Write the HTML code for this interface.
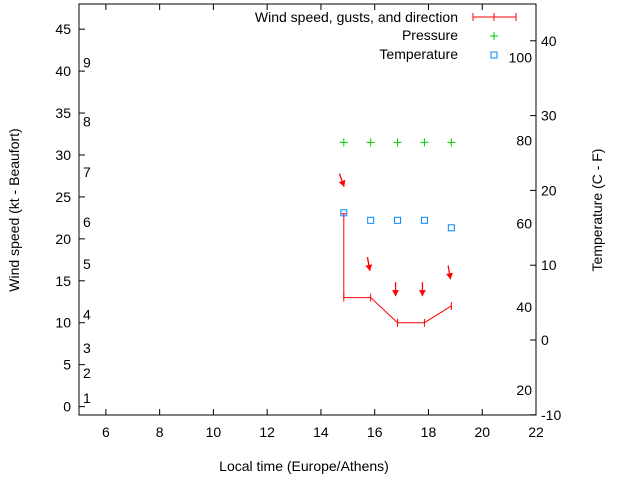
<!DOCTYPE html>
<html><head><meta charset="utf-8"><style>body{margin:0;background:#fff}svg{display:block;font-family:"Liberation Sans",sans-serif;font-size:14px}</style></head>
<body>
<svg id="c" width="640" height="480"></svg>
<script>
const hours=[14.85,15.85,16.85,17.85,18.85];
const windKt=[13,13,10,10,12];
const gustKt=[23,null,null,null,null];
const arrowKt=[27,17,14,14,16];
const windDir=[340,350,0,0,350];
const pressureKt=[31.5,31.5,31.5,31.5,31.5];
const tempC=[17,16,16,16,15];
const xTicks=[6,8,10,12,14,16,18,20,22];
const yTicks=[0,5,10,15,20,25,30,35,40,45];
const cTicks=[-10,0,10,20,30,40];
const fLabels=[20,40,60,80,100];
const bftKt=[1,4,7,11,17,22,28,34,41];
const bftLabels=[1,2,3,4,5,6,7,8,9];
const L=79,R=536,T=4,B=415;
const X=v=>L+(v-5)*(R-L)/17;
const Y=v=>B-(v+1)*(B-T)/49;
const YC=c=>340-c*7.48;
const s=document.getElementById('c');const NS='http://www.w3.org/2000/svg';
function mk(t,a,txt){const e=document.createElementNS(NS,t);for(const k in a)e.setAttribute(k,a[k]);if(txt!==undefined)e.textContent=txt;s.appendChild(e);return e;}
let e;
e=mk('rect',{x:L,y:T,width:R-L,height:B-T,fill:'none',stroke:'#000','stroke-width':1});


xTicks.forEach(v=>{const x=X(v);
e=mk('path',{d:`M${x} ${B}v-6M${x} ${T}v6`,stroke:'#000'});


e=mk('text',{x:x,y:B+22,'text-anchor':'middle'},v);

});
yTicks.forEach(v=>{const y=Y(v);
e=mk('path',{d:`M${L} ${y}h6`,stroke:'#000'});


e=mk('text',{x:L-8,y:y+5,'text-anchor':'end'},v);

});
cTicks.forEach(v=>{const y=YC(v);
e=mk('path',{d:`M${R} ${y}h-6`,stroke:'#000'});


e=mk('text',{x:R+5,y:y+5},v);

});
fLabels.forEach(v=>{const y=YC((v-32)*5/9);
e=mk('text',{x:R-4,y:y+5,'text-anchor':'end'},v);

});
bftKt.forEach((k,i)=>{
e=mk('text',{x:83,y:Y(k)+5},bftLabels[i]);

});
e=mk('text',{x:304,y:471,'text-anchor':'middle'},'Local time (Europe/Athens)');


e=mk('text',{x:19,y:210,'text-anchor':'middle',transform:'rotate(-90 19 210)'},'Wind speed (kt - Beaufort)');


e=mk('text',{x:602,y:210,'text-anchor':'middle',transform:'rotate(-90 602 210)'},'Temperature (C - F)');


// wind line
e=mk('polyline',{points:hours.map((h,i)=>X(h)+','+Y(windKt[i])).join(' '),fill:'none',stroke:'#f00'});


hours.forEach((h,i)=>{const x=X(h),y=Y(windKt[i]);
e=mk('path',{d:`M${x} ${y-4}v8`,stroke:'#f00'});


if(gustKt[i]!=null){e=mk('path',{d:`M${x} ${y}V${Y(gustKt[i])}M${x-3} ${Y(gustKt[i])}h6`,stroke:'#f00'});

}
const a=(windDir[i]-360)*Math.PI/180,yc=Y(arrowKt[i]),dx=-Math.sin(a)*7,dy=7*Math.cos(a);
const x1=x-dx-2,y1=yc-dy,x2=x+dx-2,y2=yc+dy;
e=mk('path',{d:`M${x1} ${y1}L${x2} ${y2}`,stroke:'#f00','stroke-width':1.3});


const ux=(x2-x1)/14,uy=(y2-y1)/14;
e=mk('path',{d:`M${x2} ${y2}L${x2-ux*6-uy*3.5} ${y2-uy*6+ux*3.5}L${x2-ux*6+uy*3.5} ${y2-uy*6-ux*3.5}Z`,fill:'#f00'});


const py=Y(pressureKt[i]);
e=mk('path',{d:`M${x-4} ${py}h8M${x} ${py-4}v8`,stroke:'#0c0'});


const ty=YC(tempC[i]);
e=mk('rect',{x:x-3,y:ty-3,width:6,height:6,fill:'none',stroke:'#08f'});

});
// legend
e=mk('text',{x:458,y:22,'text-anchor':'end'},'Wind speed, gusts, and direction');


e=mk('path',{d:'M473 17h43M473 13v8M516 13v8M494 13v8',stroke:'#f00'});


e=mk('text',{x:458,y:40,'text-anchor':'end'},'Pressure');


e=mk('path',{d:'M490 36h8M494 32v8',stroke:'#0c0'});


e=mk('text',{x:458,y:59,'text-anchor':'end'},'Temperature');


e=mk('rect',{x:491,y:52,width:6,height:6,fill:'none',stroke:'#08f'});


</script>
</body></html>
